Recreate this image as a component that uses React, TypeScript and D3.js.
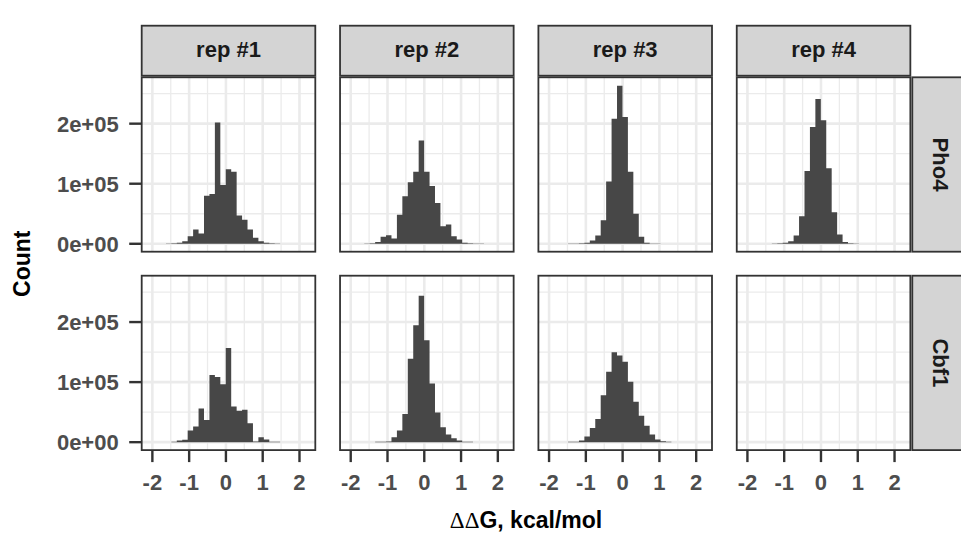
import React from 'react';
import * as d3 from 'd3';

const reps = ['rep #1', 'rep #2', 'rep #3', 'rep #4'];
const factors = ['Pho4', 'Cbf1'];
const binStart = -2.149;
const binWidth = 0.1479;
const xTicks = [-2, -1, 0, 1, 2];
const xMinor = [-1.5, -0.5, 0.5, 1.5];
const yTicks = [0, 100000, 200000];
const yMinor = [50000, 150000, 250000];
const yTickLabels = ['0e+00', '1e+05', '2e+05'];
const xDomain = [-2.29, 2.43];
const yDomain = [-13200, 277200];

// counts in thousands, 30 bins each
const pho4Rep1 = [0, 0, 0, 0, 0.5, 0.8, 1.7, 4.4, 12.7, 23.7, 17, 80, 83, 202, 98, 124, 120, 47, 40, 23.7, 10, 4.4, 1.7, 0.8, 0.5, 0, 0, 0, 0, 0];
const pho4Rep2 = [0, 0, 0, 0, 0.5, 0.8, 2.8, 11.6, 14.3, 8.8, 48.5, 79, 102.5, 120, 172, 120, 96, 68, 29, 32, 12.7, 7.2, 1.7, 1.0, 0.6, 0.5, 0, 0, 0, 0];
const pho4Rep3 = [0, 0, 0, 0, 0, 0.5, 0.6, 0.8, 1.7, 5.5, 13.8, 39, 103.6, 208, 263, 211, 120, 50, 11.6, 1.7, 0.6, 0.5, 0, 0, 0, 0, 0, 0, 0, 0];
const pho4Rep4 = [0, 0, 0, 0, 0, 0, 0.5, 0.7, 1.7, 4.4, 13.8, 45.7, 121, 194.5, 241, 205.5, 125.6, 52.3, 15.4, 2.8, 0.7, 0.5, 0, 0, 0, 0, 0, 0, 0, 0];
const cbf1Rep1 = [0, 0, 0, 0, 0, 0.5, 2.8, 3.9, 19.3, 25.9, 56.2, 36.9, 111.8, 108.5, 96.4, 157, 59.5, 52.3, 54, 31.4, 1.1, 8.3, 4.4, 0.6, 0.5, 0, 0, 0, 0, 0];
const cbf1Rep2 = [0, 0, 0, 0, 0, 0, 0.5, 0.6, 1.1, 8.3, 19.3, 46.8, 138.8, 194.5, 244, 169.7, 97.5, 49.6, 24.8, 12.7, 6.6, 2.8, 0.8, 0.5, 0, 0, 0, 0, 0, 0];
const cbf1Rep3 = [0, 0, 0, 0, 0, 0.5, 0.6, 2.8, 9.4, 23.7, 38.6, 78.2, 117.4, 149.9, 144.4, 133.9, 100.8, 67.2, 44, 27.5, 12.7, 4.4, 1.7, 0.6, 0, 0, 0, 0, 0, 0];
const cbf1Rep4: number[] = [];

const countsByPanel = [
  [pho4Rep1, pho4Rep2, pho4Rep3, pho4Rep4],
  [cbf1Rep1, cbf1Rep2, cbf1Rep3, cbf1Rep4],
];

const W = 961;
const H = 534;
const FONT = "'Liberation Sans', Arial, Helvetica, sans-serif";
const SYMBOL_FONT = "'Liberation Serif', 'DejaVu Serif', serif";
const panelLeft0 = 141.7;
const panelW = 173.6;
const colStep = 198.35;
const panelTop0 = 77.3;
const panelH = 174.4;
const rowStep = 198.4;
const stripTop = 25.7;
const stripBottom = 75.7;
const rightStripX = 912.3;
const rightStripW = 52;
const border = '#333333';
const grid = '#ebebeb';
const barFill = '#474747';
const stripFill = '#d4d4d4';
const tickText = '#4d4d4d';

function Panel({ r, c }: { r: number; c: number }) {
  const x0 = panelLeft0 + c * colStep;
  const y0 = panelTop0 + r * rowStep;
  const xs = d3.scaleLinear().domain(xDomain).range([x0, x0 + panelW]);
  const ys = d3.scaleLinear().domain(yDomain).range([y0 + panelH, y0]);
  const counts = countsByPanel[r][c];
  let path = '';
  if (counts.length) {
    const pts: [number, number][] = [];
    pts.push([xs(binStart - binWidth / 2), ys(0)]);
    counts.forEach((v, i) => {
      const a = binStart - binWidth / 2 + i * binWidth;
      pts.push([xs(a), ys(v * 1000)]);
      pts.push([xs(a + binWidth), ys(v * 1000)]);
    });
    pts.push([xs(binStart - binWidth / 2 + counts.length * binWidth), ys(0)]);
    path = (d3.line()(pts) || '') + 'Z';
  }
  return (
    <g>
      <rect x={x0} y={y0} width={panelW} height={panelH} fill="#ffffff" />
      {xMinor.map((v) => (
        <line key={'xm' + v} x1={xs(v)} x2={xs(v)} y1={y0} y2={y0 + panelH} stroke={grid} strokeWidth={1.3} />
      ))}
      {yMinor.map((v) => (
        <line key={'ym' + v} x1={x0} x2={x0 + panelW} y1={ys(v)} y2={ys(v)} stroke={grid} strokeWidth={1.3} />
      ))}
      {xTicks.map((v) => (
        <line key={'xM' + v} x1={xs(v)} x2={xs(v)} y1={y0} y2={y0 + panelH} stroke={grid} strokeWidth={2.6} />
      ))}
      {yTicks.map((v) => (
        <line key={'yM' + v} x1={x0} x2={x0 + panelW} y1={ys(v)} y2={ys(v)} stroke={grid} strokeWidth={2.6} />
      ))}
      {path && <path d={path} fill={barFill} />}
      <rect x={x0} y={y0} width={panelW} height={panelH} fill="none" stroke={border} strokeWidth={1.8} />
      {c === 0 &&
        yTicks.map((v, i) => (
          <g key={'yt' + v}>
            <line x1={x0 - 12.5} x2={x0} y1={ys(v)} y2={ys(v)} stroke={border} strokeWidth={2.4} />
            <text x={x0 - 23} y={ys(v) + 8} textAnchor="end" fontFamily={FONT} fontWeight="bold" fontSize={22} fill={tickText}>
              {yTickLabels[i]}
            </text>
          </g>
        ))}
      {r === 1 &&
        xTicks.map((v) => (
          <g key={'xt' + v}>
            <line x1={xs(v)} x2={xs(v)} y1={y0 + panelH} y2={y0 + panelH + 12} stroke={border} strokeWidth={2.4} />
            <text x={xs(v)} y={y0 + panelH + 39.5} textAnchor="middle" fontFamily={FONT} fontWeight="bold" fontSize={22} fill={tickText}>
              {v < 0 ? '-' + Math.abs(v) : String(v)}
            </text>
          </g>
        ))}
    </g>
  );
}

export default function App() {
  return (
    <svg width={W} height={H} style={{ position: 'absolute', left: 0, top: 0, background: '#ffffff' }}>
      <rect width={W} height={H} fill="#ffffff" />
      {reps.map((rep, c) => {
        const x0 = panelLeft0 + c * colStep;
        return (
          <g key={rep}>
            <rect x={x0} y={stripTop} width={panelW} height={stripBottom - stripTop} fill={stripFill} stroke={border} strokeWidth={1.8} />
            <text x={x0 + panelW / 2} y={56.5} textAnchor="middle" fontFamily={FONT} fontWeight="bold" fontSize={22} fill="#1a1a1a">
              {rep}
            </text>
          </g>
        );
      })}
      {factors.map((f, r) => {
        const y0 = panelTop0 + r * rowStep;
        return (
          <g key={f}>
            <rect x={rightStripX} y={y0} width={rightStripW} height={panelH} fill={stripFill} stroke={border} strokeWidth={1.8} />
            <text
              transform={`translate(${rightStripX + 21},${y0 + panelH / 2}) rotate(90)`}
              textAnchor="middle"
              fontFamily={FONT}
              fontWeight="bold"
              fontSize={22}
              fill="#1a1a1a"
            >
              {f}
            </text>
          </g>
        );
      })}
      {factors.map((f, r) => reps.map((rep, c) => <Panel key={f + rep} r={r} c={c} />))}
      <text
        transform={`translate(30,${panelTop0 + (rowStep + panelH) / 2}) rotate(-90)`}
        textAnchor="middle"
        fontFamily={FONT}
        fontWeight="bold"
        fontSize={23}
        fill="#000000"
      >
        Count
      </text>
      <text
        x={panelLeft0 + (3 * colStep + panelW) / 2}
        y={528}
        textAnchor="middle"
        fontFamily={FONT}
        fontWeight="bold"
        fontSize={23}
        fill="#000000"
      >
        <tspan fontFamily={SYMBOL_FONT} fontWeight="normal">ΔΔ</tspan>
        <tspan>G, kcal/mol</tspan>
      </text>
    </svg>
  );
}
